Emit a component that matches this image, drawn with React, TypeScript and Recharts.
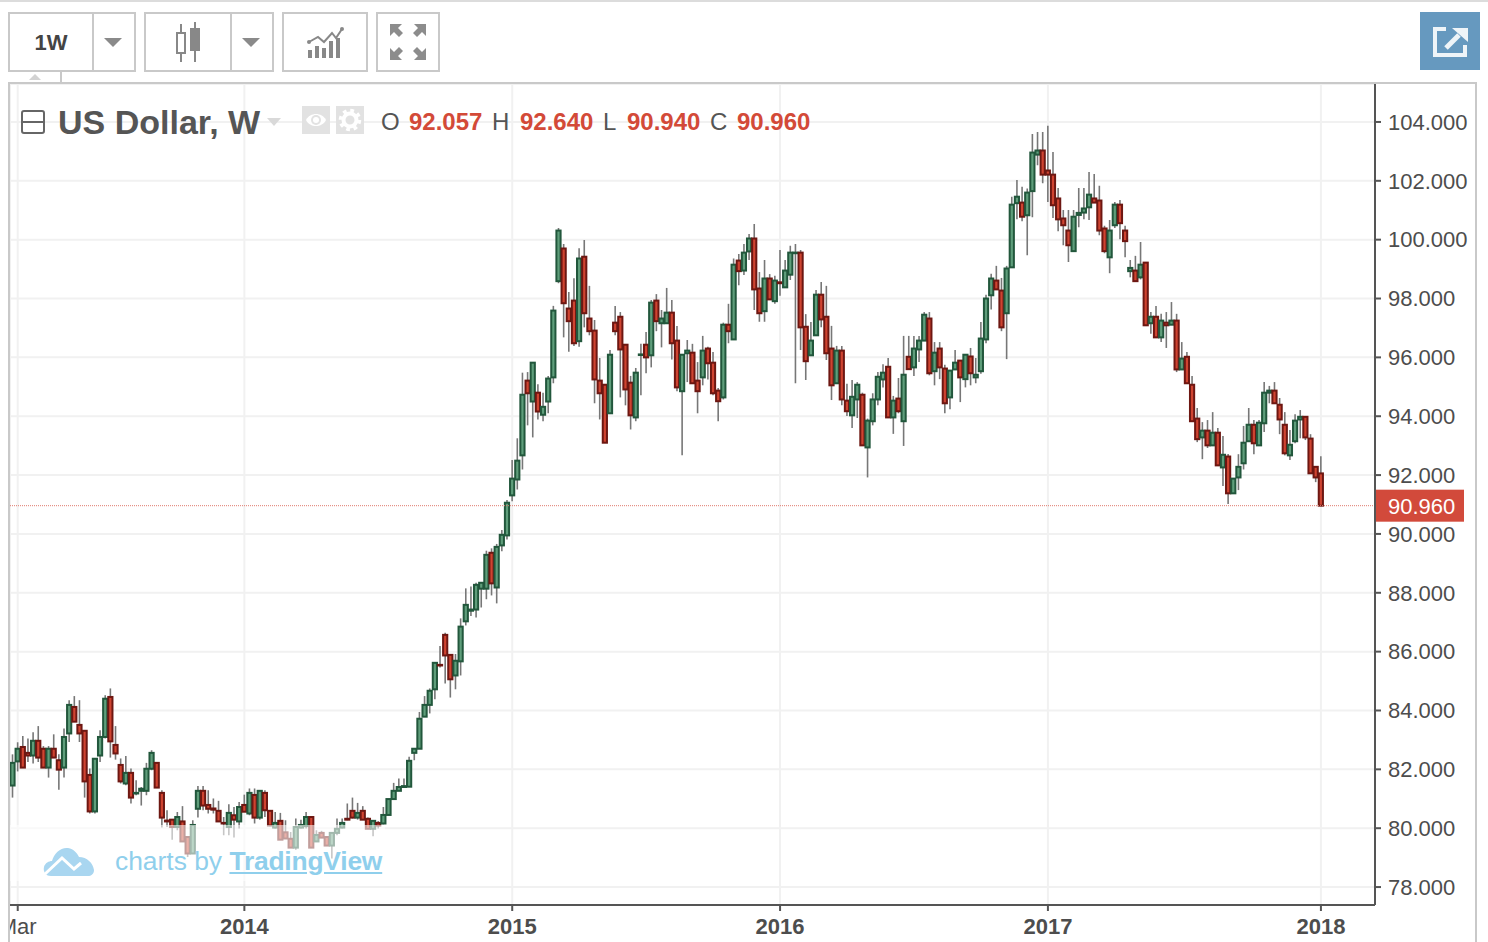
import React from "react";
import {
  Bar,
  CartesianGrid,
  ComposedChart,
  ReferenceLine,
  XAxis,
  YAxis,
} from "recharts";

const opens = [
  81.45,82.27,82.76,82.56,82.47,82.97,82.70,82.06,82.70,82.31,
  82.06,83.22,84.12,83.51,83.31,81.81,80.57,82.47,83.10,84.46,
  82.83,82.15,81.52,81.88,81.18,81.27,81.27,82.02,82.22,81.20,
  80.26,80.29,80.04,80.23,79.70,79.14,80.66,81.27,80.79,80.67,
  80.59,80.18,80.04,80.44,80.23,80.79,80.50,81.13,80.36,81.20,
  80.59,80.02,80.25,79.86,79.64,79.34,80.02,80.07,80.38,79.55,
  79.84,79.70,79.41,79.84,80.02,80.32,80.59,80.36,80.59,80.32,
  79.98,80.18,80.16,80.45,80.99,81.27,81.40,81.41,82.56,82.70,
  83.79,84.19,84.72,85.55,86.57,85.89,85.19,85.67,87.03,87.39,
  87.43,88.14,88.14,89.36,88.18,89.61,89.95,91.31,91.85,92.67,
  95.21,94.50,94.80,94.05,94.50,95.32,98.59,99.70,97.66,97.93,
  96.55,99.42,97.32,96.91,95.21,95.07,94.10,97.18,97.38,96.43,
  95.14,93.96,96.08,96.43,96.07,97.93,97.16,97.16,97.52,96.57,
  94.85,96.14,96.16,95.21,95.32,96.30,95.82,94.87,94.64,97.11,
  96.61,99.29,98.95,99.60,100.04,98.34,97.57,98.68,97.91,98.55,
  98.38,98.81,99.54,99.56,97.04,96.07,96.75,98.13,97.38,96.30,
  95.12,96.23,94.53,94.03,94.57,94.73,92.94,93.83,94.57,95.25,
  95.68,93.96,94.60,93.83,96.02,95.66,96.27,96.57,97.32,95.53,
  96.30,95.62,94.64,95.59,95.89,95.26,96.03,95.32,95.53,96.61,
  98.11,98.61,98.27,97.50,99.06,101.24,101.26,100.83,101.65,102.89,
  103.03,102.35,102.21,101.40,100.72,100.31,99.61,100.84,100.92,101.10,
  101.40,101.33,100.38,99.40,100.49,101.19,100.31,98.93,98.95,98.72,
  99.22,97.16,97.38,96.68,97.18,97.11,97.25,95.59,96.02,95.07,
  93.92,93.28,93.51,93.01,93.44,92.26,92.63,91.38,91.92,92.40,
  93.15,93.71,93.01,93.76,94.80,94.87,94.39,93.71,92.67,93.15,
  93.89,93.98,93.24,92.28,92.057,
];

const highs = [
  82.51,82.92,83.13,83.05,83.26,83.47,82.79,82.79,83.19,82.51,
  83.39,84.35,84.49,84.35,83.31,82.03,82.36,83.33,84.52,84.75,
  83.47,82.37,82.45,82.03,81.63,81.40,82.22,82.65,82.22,81.29,
  80.61,80.29,80.55,80.75,79.70,80.27,81.43,81.43,81.29,81.01,
  80.93,80.38,80.81,80.72,80.89,81.14,81.35,81.35,81.29,81.29,
  80.59,80.55,80.52,80.27,79.87,80.33,80.29,80.55,80.38,79.93,
  79.91,79.73,79.84,80.33,80.33,80.84,81.04,80.86,80.75,80.36,
  80.25,80.24,80.72,80.99,81.54,81.69,81.69,82.43,82.70,83.95,
  84.49,84.75,85.62,86.19,86.64,85.89,85.92,87.13,88.15,88.21,
  88.34,88.34,89.43,89.51,89.66,90.13,91.15,92.51,93.25,95.48,
  95.50,95.82,95.09,94.80,95.37,97.75,100.40,99.85,98.22,98.69,
  99.71,99.99,98.43,97.27,95.98,95.07,96.25,97.75,97.54,96.43,
  95.37,95.64,96.46,96.86,97.95,98.15,97.61,98.36,97.95,97.07,
  96.09,96.59,96.46,95.84,96.73,96.36,96.18,94.96,97.18,97.82,
  99.36,99.51,99.85,100.19,100.53,98.90,99.31,98.83,98.77,99.65,
  99.31,99.79,99.85,99.65,97.47,97.20,98.29,98.56,98.43,97.07,
  96.39,96.39,95.10,95.23,95.16,94.80,93.92,94.78,95.50,95.77,
  95.98,94.69,95.30,96.73,96.73,96.73,96.73,97.54,97.54,96.52,
  96.52,95.75,95.55,96.25,95.89,96.09,96.32,95.98,97.20,98.13,
  98.84,99.11,98.70,99.11,101.46,102.03,101.80,101.74,103.59,103.66,
  103.66,103.87,102.98,101.76,101.01,101.01,101.01,101.76,101.76,102.30,
  102.23,101.83,100.47,100.67,101.28,101.35,100.47,99.31,99.45,99.92,
  99.22,97.54,97.75,97.48,97.54,97.88,97.48,96.52,96.18,95.37,
  94.28,93.80,93.87,94.14,93.60,93.33,92.72,91.88,92.71,93.67,
  94.28,93.87,93.87,95.16,95.03,95.16,94.62,94.14,93.53,94.07,
  94.21,93.98,93.39,92.28,92.64,
];

const lows = [
  81.04,81.93,82.06,82.25,82.20,82.25,82.06,81.72,82.40,81.31,
  81.72,82.93,83.62,82.93,81.04,80.50,80.50,82.25,83.05,82.40,
  82.33,81.52,81.46,80.84,81.12,80.77,81.12,81.97,81.38,80.02,
  80.04,79.61,79.93,79.55,79.02,79.14,80.36,80.61,80.50,80.50,
  80.23,79.76,79.76,79.68,79.99,80.56,80.44,80.16,80.29,80.38,
  80.07,79.99,79.61,79.65,79.34,79.27,79.99,79.99,79.34,79.53,
  79.68,79.41,78.97,79.76,79.99,80.27,80.33,80.29,80.29,79.98,
  79.73,79.99,80.13,80.44,80.99,81.27,81.40,81.41,82.31,82.70,
  83.79,83.90,84.38,85.46,84.92,84.44,84.72,85.19,86.89,87.21,
  87.16,87.50,87.78,87.91,87.64,89.41,89.81,91.11,91.51,92.19,
  93.69,93.28,93.89,93.83,94.10,95.12,98.52,96.68,96.19,96.39,
  96.36,97.02,96.75,94.44,93.89,93.10,94.10,96.75,94.64,94.37,
  93.55,93.83,94.71,95.46,95.66,96.89,96.34,97.16,95.93,94.85,
  92.67,95.16,95.12,94.10,95.05,95.25,94.71,93.83,94.57,96.48,
  96.61,98.45,98.80,99.31,97.61,97.21,97.21,97.97,97.82,98.09,
  98.38,98.63,95.12,96.25,95.23,96.07,96.75,97.02,95.91,94.55,
  95.12,94.37,94.01,93.60,93.94,93.01,91.92,93.69,94.37,94.98,
  93.96,93.40,94.10,92.99,95.60,95.37,95.84,96.57,95.39,95.05,
  95.26,94.10,94.24,95.59,94.48,94.98,95.05,95.12,95.44,96.48,
  97.63,98.31,96.89,95.94,99.06,100.69,100.63,99.47,100.76,102.53,
  101.92,101.28,100.74,100.29,99.81,99.24,99.61,100.42,100.69,100.67,
  101.26,100.15,99.54,98.86,100.40,100.01,99.40,98.72,98.59,98.65,
  97.09,96.80,96.68,96.52,96.32,97.11,95.50,95.59,95.12,93.83,
  93.12,92.54,92.92,93.01,92.33,91.63,91.02,91.38,91.49,92.19,
  93.15,92.71,93.01,93.46,94.44,94.44,93.39,92.67,92.51,93.08,
  93.25,93.19,92.06,91.76,90.94,
];

const closes = [
  82.22,82.70,82.06,82.47,82.97,82.40,82.06,82.70,82.40,81.99,
  83.10,84.19,83.62,83.22,81.59,80.57,82.36,83.10,84.40,82.95,
  82.54,81.59,81.88,81.04,81.20,81.34,82.02,82.56,81.38,80.36,
  80.23,80.04,80.38,79.55,79.14,80.11,81.27,80.77,80.66,80.63,
  80.23,80.16,80.52,80.29,80.72,80.56,81.20,80.36,81.27,80.61,
  80.09,80.18,79.61,79.65,79.34,80.04,80.11,80.38,79.34,79.77,
  79.68,79.41,79.84,79.98,80.18,80.29,80.36,80.52,80.29,79.98,
  80.25,80.09,80.45,80.99,81.27,81.40,81.43,82.29,82.70,83.72,
  84.19,84.67,85.62,85.53,85.87,85.06,85.69,86.85,87.59,87.43,
  88.27,88.34,89.29,88.32,89.56,89.97,91.06,91.88,92.49,94.73,
  94.78,95.82,94.16,94.32,95.28,97.59,100.31,97.84,97.23,96.48,
  99.36,97.50,96.89,95.25,94.78,93.10,96.09,96.89,96.27,94.91,
  94.03,95.48,96.10,96.00,97.86,97.23,97.32,97.52,96.48,94.98,
  96.09,96.23,95.12,94.85,96.23,95.80,94.78,94.51,97.11,96.89,
  99.15,98.93,99.56,100.04,98.31,97.50,98.68,97.97,98.61,98.52,
  98.95,99.56,99.56,97.02,95.87,96.57,98.13,97.29,96.14,95.05,
  96.23,94.57,94.17,94.66,95.07,93.01,93.85,94.57,95.34,95.48,
  93.96,94.53,94.17,95.41,95.60,96.30,96.57,97.45,95.46,96.16,
  95.66,94.44,95.55,95.82,95.32,96.09,95.46,95.41,96.64,98.00,
  98.68,98.31,97.02,99.02,101.19,101.46,100.78,101.60,102.96,103.03,
  102.21,102.21,101.17,100.69,100.49,99.81,100.78,100.91,101.06,101.53,
  101.26,100.31,99.61,100.31,101.19,100.56,99.95,99.04,98.59,99.15,
  97.09,97.38,96.68,97.25,97.09,97.25,95.59,95.96,95.12,93.83,
  93.22,93.51,93.01,93.44,92.33,92.69,91.38,91.88,92.28,93.10,
  93.71,93.08,93.78,94.80,94.87,94.44,93.89,92.74,93.03,93.85,
  93.98,93.28,92.06,91.92,90.96,
];

// empty weeks on the right of the last candle
const EMPTY_WEEKS = 10;
const priceTicks = [78, 80, 82, 84, 86, 88, 90, 92, 94, 96, 98, 100, 102, 104];
const timeLabels: Record<number, string> = {
  1: "Mar",
  45: "2014",
  97: "2015",
  149: "2016",
  201: "2017",
  254: "2018",
};
const lastClose = 90.96;

const data = Array.from({ length: opens.length + EMPTY_WEEKS }, (_, i) =>
  i < opens.length
    ? { week: i, open: opens[i], high: highs[i], low: lows[i], close: closes[i], range: [lows[i], highs[i]] }
    : { week: i, range: null }
);

const font = '"Liberation Sans", Arial, sans-serif';

function Candle(props: any) {
  const { x, y, width, height, payload } = props;
  if (!payload || payload.open == null || !height) return null;
  const perUnit = height / (payload.high - payload.low);
  const openY = y + (payload.high - payload.open) * perUnit;
  const closeY = y + (payload.high - payload.close) * perUnit;
  const up = payload.close >= payload.open;
  const cx = x + width / 2;
  const top = Math.min(openY, closeY);
  const h = Math.max(Math.abs(openY - closeY), 0.6);
  return (
    <g>
      <line x1={cx} x2={cx} y1={y} y2={y + height} stroke="#777777" strokeWidth={1.6} />
      <rect
        x={cx - 2.1}
        y={top}
        width={4.2}
        height={h}
        fill={up ? "#5f9e7b" : "#cf4431"}
        stroke={up ? "#22573c" : "#6d1712"}
        strokeWidth={2}
      />
    </g>
  );
}

function TimeTick(props: any) {
  const { x, y, payload } = props;
  const label = timeLabels[payload.value];
  return (
    <text
      x={x}
      y={y + 21}
      textAnchor="middle"
      fontFamily={font}
      fontSize={22}
      fontWeight={label === "Mar" ? 400 : 700}
      fill="#4d4d4d"
    >
      {label}
    </text>
  );
}

function PriceTag(props: any) {
  const { viewBox } = props;
  const right = viewBox.x + viewBox.width;
  const cy = viewBox.y;
  return (
    <g>
      <rect x={right} y={cy - 16} width={89} height={32} fill="#d24a3b" />
      <text x={right + 13} y={cy + 8} fontFamily={font} fontSize={22} fill="#ffffff">
        90.960
      </text>
    </g>
  );
}

function Box({ left, top, width, height, children, style }: any) {
  return (
    <div
      style={{
        position: "absolute",
        left,
        top,
        width,
        height,
        boxSizing: "border-box",
        ...style,
      }}
    >
      {children}
    </div>
  );
}

const frame = "2px solid #c9c9c9";

function Arrow({ left, top, color = "#8a8a8a", size = 9 }: any) {
  return (
    <Box
      left={left}
      top={top}
      width={0}
      height={0}
      style={{
        borderLeft: `${size}px solid transparent`,
        borderRight: `${size}px solid transparent`,
        borderTop: `${size}px solid ${color}`,
      }}
    />
  );
}

function Toolbar() {
  return (
    <>
      <Box left={0} top={0} width={1488} height={2} style={{ background: "#dcdcdc" }} />
      <Box left={8} top={12} width={128} height={60} style={{ border: frame }} />
      <Box left={92} top={12} width={2} height={60} style={{ background: "#c9c9c9" }} />
      <Box left={8} top={36} width={86} height={26} style={{ textAlign: "center", font: `bold 22px ${font}`, color: "#444", lineHeight: "14px" }}>
        1W
      </Box>
      <Arrow left={104} top={38} />
      <Box left={144} top={12} width={130} height={60} style={{ border: frame }} />
      <Box left={230} top={12} width={2} height={60} style={{ background: "#c9c9c9" }} />
      <svg style={{ position: "absolute", left: 170, top: 20, width: 36, height: 44 }} viewBox="0 0 36 44">
        <path d="M11 4V42" stroke="#888" strokeWidth="2" />
        <rect x="7" y="13" width="8" height="20" fill="#fff" stroke="#888" strokeWidth="2" />
        <path d="M25 2V42" stroke="#888" strokeWidth="2" />
        <rect x="20" y="8" width="10" height="23" fill="#888" />
      </svg>
      <Arrow left={242} top={38} />
      <Box left={282} top={12} width={86} height={60} style={{ border: frame }} />
      <svg style={{ position: "absolute", left: 306, top: 26, width: 38, height: 34 }} viewBox="0 0 38 34">
        <path d="M3 16L12 11L18 16L26 7L30 12L36 3" stroke="#888" strokeWidth="2" fill="none" />
        <g fill="#888">
          <circle cx="3" cy="16" r="2" />
          <circle cx="36" cy="3" r="2" />
          <rect x="2" y="24" width="4" height="8" />
          <rect x="9" y="20" width="4" height="12" />
          <rect x="16" y="22" width="4" height="10" />
          <rect x="23" y="15" width="4" height="17" />
          <rect x="30" y="12" width="4" height="20" />
        </g>
      </svg>
      <Box left={376} top={12} width={64} height={60} style={{ border: frame }} />
      <svg style={{ position: "absolute", left: 388, top: 22, width: 40, height: 40 }} viewBox="0 0 40 40">
        <g fill="#8c8c8c">
          <path d="M2 2H14L10 6L15 11L11 15L6 10L2 14Z" />
          <path d="M38 2H26L30 6L25 11L29 15L34 10L38 14Z" />
          <path d="M2 38H14L10 34L15 29L11 25L6 30L2 26Z" />
          <path d="M38 38H26L30 34L25 29L29 25L34 30L38 26Z" />
        </g>
      </svg>
      <Box left={1420} top={12} width={60} height={58} style={{ background: "#6699bf" }} />
      <svg style={{ position: "absolute", left: 1432, top: 26, width: 38, height: 32 }} viewBox="0 0 38 32">
        <path d="M14 3H3V29H33V19" stroke="#eef4f8" strokeWidth="4" fill="none" />
        <path d="M14 22L27 9" stroke="#eef4f8" strokeWidth="5" />
        <path d="M20 2H36V16Z" fill="#eef4f8" />
      </svg>
      {/* small tab under the interval button */}
      <Box left={8} top={71} width={54} height={12} style={{ borderRight: frame }} />
      <svg style={{ position: "absolute", left: 29, top: 74, width: 12, height: 6 }} viewBox="0 0 12 6">
        <path d="M0 6L6 0L12 6Z" fill="#d2d2d2" />
      </svg>
    </>
  );
}

const ohlcLabel: any = { position: "absolute", top: 108, font: `24px ${font}`, color: "#555", lineHeight: "28px", whiteSpace: "nowrap" };
const ohlcValue: any = { ...ohlcLabel, color: "#d34a38", fontWeight: 700 };

function Legend() {
  return (
    <>
      <Box left={21} top={110} width={24} height={24} style={{ border: "2px solid #666", borderRadius: 3 }} />
      <Box left={23} top={121} width={20} height={2} style={{ background: "#666" }} />
      <div style={{ position: "absolute", left: 58, top: 102, font: `bold 34px ${font}`, lineHeight: "40px", color: "#555", whiteSpace: "nowrap" }}>
        US Dollar, W
      </div>
      <svg style={{ position: "absolute", left: 267, top: 118, width: 14, height: 8 }} viewBox="0 0 14 8">
        <path d="M0 0H14L7 8Z" fill="#d9d9d9" />
      </svg>
      <Box left={302} top={106} width={28} height={28} style={{ background: "#e2e2e2" }} />
      <svg style={{ position: "absolute", left: 302, top: 106, width: 28, height: 28 }} viewBox="0 0 28 28">
        <path d="M4 14C8 6 20 6 24 14C20 22 8 22 4 14Z" fill="#fff" />
        <circle cx="14" cy="14" r="5" fill="#e2e2e2" />
        <circle cx="14" cy="14" r="3" fill="#fff" />
      </svg>
      <Box left={336} top={106} width={28} height={28} style={{ background: "#e2e2e2" }} />
      <svg style={{ position: "absolute", left: 336, top: 106, width: 28, height: 28 }} viewBox="0 0 28 28">
        <circle cx="14" cy="14" r="6.5" fill="none" stroke="#fff" strokeWidth="4" />
        <circle cx="14" cy="14" r="9.5" fill="none" stroke="#fff" strokeWidth="3.5" strokeDasharray="3.7 3.76" />
      </svg>
      <span style={{ ...ohlcLabel, left: 381 }}>O</span>
      <span style={{ ...ohlcValue, left: 409 }}>92.057</span>
      <span style={{ ...ohlcLabel, left: 492 }}>H</span>
      <span style={{ ...ohlcValue, left: 520 }}>92.640</span>
      <span style={{ ...ohlcLabel, left: 603 }}>L</span>
      <span style={{ ...ohlcValue, left: 627 }}>90.940</span>
      <span style={{ ...ohlcLabel, left: 710 }}>C</span>
      <span style={{ ...ohlcValue, left: 737 }}>90.960</span>
    </>
  );
}

function Watermark() {
  return (
    <>
      <Box left={10} top={825} width={375} height={56} style={{ background: "rgba(255,255,255,0.58)" }} />
      <svg style={{ position: "absolute", left: 43, top: 845, width: 52, height: 33 }} viewBox="0 0 52 33">
        <path
          d="M8 31C2 31 0 26 1 22C2 18 6 16 9 16C11 8 18 2 25 3C31 4 34 8 36 12C44 12 50 18 51 25C51 29 48 31 45 31Z"
          fill="#a9d6f0"
        />
        <path d="M2 29L19 13L31 24L38 18" stroke="#fff" strokeWidth="3" fill="none" />
      </svg>
      <div style={{ position: "absolute", left: 115, top: 846, font: `26.4px ${font}`, lineHeight: "30px", color: "#8fcfec", whiteSpace: "nowrap" }}>
        charts by{" "}
        <span style={{ fontWeight: 700, textDecoration: "underline", letterSpacing: -0.2 }}>TradingView</span>
      </div>
    </>
  );
}

export default function App() {
  return (
    <div style={{ position: "absolute", left: 0, top: 0, width: 1488, height: 942, background: "#fff", overflow: "hidden" }}>
      <ComposedChart
        width={1488}
        height={942}
        data={data}
        margin={{ top: 84, right: 0, bottom: 0, left: 10 }}
        barCategoryGap={0}
        style={{ position: "absolute", left: 0, top: 0 }}
      >
        <CartesianGrid stroke="#f1f1f1" strokeWidth={2} />
        <XAxis
          dataKey="week"
          type="category"
          height={37}
          ticks={Object.keys(timeLabels).map(Number)}
          interval={0}
          stroke="#555555"
          strokeWidth={2}
          tickSize={6}
          tick={<TimeTick />}
        />
        <YAxis
          orientation="right"
          width={113}
          domain={[77.39, 105.29]}
          allowDataOverflow
          ticks={priceTicks}
          interval={0}
          stroke="#555555"
          strokeWidth={2}
          tickSize={6}
          tickMargin={7}
          tickFormatter={(v: number) => v.toFixed(3)}
          tick={{ fill: "#4d4d4d", fontSize: 22, fontFamily: font }}
        />
        <ReferenceLine y={lastClose} stroke="#e07a6e" strokeDasharray="1 1" strokeWidth={1} label={<PriceTag />} />
        <Bar dataKey="range" shape={<Candle />} isAnimationActive={false} />
      </ComposedChart>
      <Box left={0} top={84} width={8} height={858} style={{ background: "#fff" }} />
      <Box left={8} top={82} width={1469} height={860} style={{ borderTop: frame, borderLeft: frame, borderRight: frame, pointerEvents: "none" }} />
      <Toolbar />
      <Legend />
      <Watermark />
    </div>
  );
}
